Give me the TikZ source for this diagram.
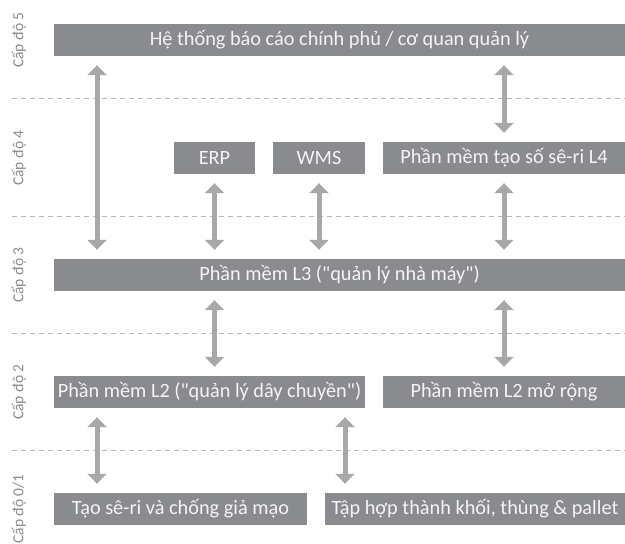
\documentclass[tikz,border=0pt]{standalone}
\usepackage{fontspec}
\setmainfont{Carlito}[Ligatures=TeXOff]
\usetikzlibrary{arrows.meta}
\definecolor{boxgray}{HTML}{8A8B8E}
\definecolor{arrgray}{HTML}{A7A8AA}
\definecolor{dashgray}{HTML}{B8B8B8}
\definecolor{lblgray}{HTML}{8C8C8C}
\definecolor{txtwhite}{HTML}{F4F4F4}
\begin{document}
\begin{tikzpicture}[x=1pt,y=-1pt,
  box/.style={fill=boxgray,text=txtwhite,inner sep=0pt,minimum height=32pt,
    font=\fontsize{20.3}{23}\selectfont},
  lvl/.style={rotate=90,text=lblgray,inner sep=0pt,font=\fontsize{15.5}{17}\selectfont},
  sep/.style={draw=dashgray,line width=1pt,dash pattern=on 5pt off 4pt},
  dbl/.style={draw=arrgray,line width=5pt,
    {Triangle[width=19pt,length=10pt]}-{Triangle[width=19pt,length=10pt]},
    shorten <=9pt,shorten >=9pt}]
\useasboundingbox (0,0) rectangle (625,544);
% level labels
\node[lvl] (lab5) at (19,40) {Cấp độ 5};
\node[lvl] (lab4) at (19,158) {Cấp độ 4};
\node[lvl] (lab3) at (19,275) {Cấp độ 3};
\node[lvl] (lab2) at (19,392) {Cấp độ 2};
\node[lvl] (lab1) at (19,509) {Cấp độ 0/1};
% separators
\coordinate (s1a) at (12,98.7); \coordinate (s1b) at (625,98.7);
\coordinate (s2a) at (12,216); \coordinate (s2b) at (625,216);
\coordinate (s3a) at (12,333); \coordinate (s3b) at (625,333);
\coordinate (s4a) at (12,450.7); \coordinate (s4b) at (625,450.7);
\draw[sep] (s1a) -- (s1b);
\draw[sep] (s2a) -- (s2b);
\draw[sep] (s3a) -- (s3b);
\draw[sep] (s4a) -- (s4b);
% boxes
\node[box,minimum width=571pt] (L5) at (339.5,40) {Hệ thống báo cáo chính phủ / cơ quan quản lý};
\node[box,minimum width=81pt] (ERP) at (214.5,158) {ERP};
\node[box,minimum width=92pt] (WMS) at (319,158) {WMS};
\node[box,minimum width=242pt] (L4) at (504,158) {Phần mềm tạo số sê-ri L4};
\node[box,minimum width=571pt] (L3) at (339.5,275) {Phần mềm L3 ("quản lý nhà máy")};
\node[box,minimum width=311pt] (L2) at (209.5,392) {Phần mềm L2 ("quản lý dây chuyền")};
\node[box,minimum width=242pt] (L2x) at (504,392) {Phần mềm L2 mở rộng};
\node[box,minimum width=253pt] (B1) at (180.5,509) {Tạo sê-ri và chống giả mạo};
\node[box,minimum width=300pt] (B2) at (475,509) {Tập hợp thành khối, thùng \& pallet};
% arrow columns
\coordinate (xa) at (97,0);
\coordinate (xb) at (345,0);
\draw[dbl] (L5.south -| xa) -- (L3.north -| xa);
\draw[dbl] (L5.south -| L4) -- (L4.north);
\draw[dbl] (ERP.south) -- (L3.north -| ERP);
\draw[dbl] (WMS.south) -- (L3.north -| WMS);
\draw[dbl] (L4.south) -- (L3.north -| L4);
\draw[dbl] (L3.south -| ERP) -- (L2.north -| ERP);
\draw[dbl] (L3.south -| L2x) -- (L2x.north);
\draw[dbl] (L2.south -| xa) -- (B1.north -| xa);
\draw[dbl] (L2.south -| xb) -- (B2.north -| xb);
\end{tikzpicture}
\end{document}
